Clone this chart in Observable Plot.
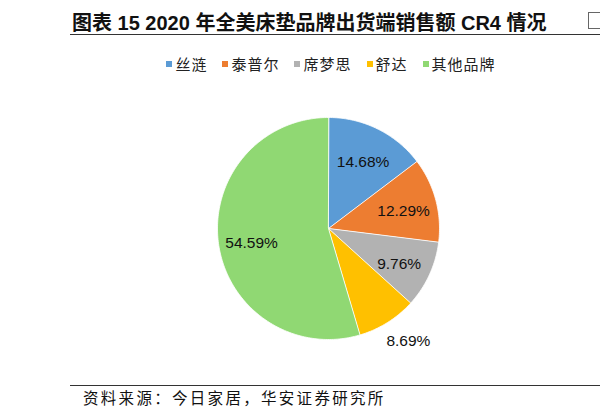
<!DOCTYPE html>
<html>
<head>
<meta charset="utf-8">
<script src="https://cdn.jsdelivr.net/npm/d3@7"></script>
<script src="https://cdn.jsdelivr.net/npm/@observablehq/plot@0.6"></script>
<style>
  html, body { margin: 0; padding: 0; background: #fff; }
  body { width: 600px; height: 417px; position: relative; overflow: hidden; font-family: "Liberation Sans", "Noto Sans CJK SC", sans-serif; }
  #title { position: absolute; left: 72px; top: 7px; font-size: 20px; font-weight: bold; color: #111; white-space: nowrap; font-family: "Liberation Sans", "Noto Sans CJK SC", sans-serif; }
  #titleRule { position: absolute; left: 70px; top: 34px; width: 530px; height: 0; border-top: 1.5px solid #333; }
  #edgeBox { position: absolute; left: 588px; top: 12px; width: 14px; height: 17px; border: 1px solid #666; box-sizing: border-box; }
  #legend { position: absolute; top: 53px; left: 0; width: 662px; display: flex; justify-content: center; gap: 15px; font-size: 15px; color: #222; font-family: "Noto Sans CJK SC", sans-serif; letter-spacing: 1px; }
  .item { display: flex; align-items: center; }
  .sw { width: 6px; height: 6px; margin-right: 3px; }
  #chart { position: absolute; left: 0; top: 80px; }
  #footRule { position: absolute; left: 70px; top: 385px; width: 530px; border-top: 1.5px solid #333; }
  #source { position: absolute; left: 83px; top: 386px; font-size: 15.5px; letter-spacing: 2.3px; color: #111; font-family: "Noto Sans CJK SC", sans-serif; white-space: nowrap; }
</style>
</head>
<body>
<div id="title">图表 15 2020 年全美床垫品牌出货端销售额 CR4 情况</div>
<div id="titleRule"></div>
<div id="edgeBox"></div>
<div id="legend"></div>
<div id="chart"></div>
<div id="footRule"></div>
<div id="source">资料来源：今日家居，华安证券研究所</div>
<script>
const brands = ["丝涟", "泰普尔", "席梦思", "舒达", "其他品牌"];
const shares = [14.68, 12.29, 9.76, 8.69, 54.59];
const colors = ["#5B9BD5", "#ED7D31", "#B2B2B2", "#FFC000", "#90D873"];

// legend
const legend = document.getElementById("legend");
brands.forEach((b, i) => {
  const it = document.createElement("div");
  it.className = "item";
  it.innerHTML = `<span class="sw" style="background:${colors[i]}"></span><span>${b}</span>`;
  legend.appendChild(it);
});

// pie geometry from the data
const arcs = d3.pie().sort(null).value(d => d)(shares);
const wedgePts = [];
const labels = [];
arcs.forEach((a, i) => {
  const a0 = a.startAngle, a1 = a.endAngle;
  const n = Math.max(2, Math.ceil((a1 - a0) / (Math.PI / 180)));
  wedgePts.push({brand: brands[i], x: 0, y: 0});
  for (let k = 0; k <= n; k++) {
    const t = a0 + (a1 - a0) * k / n;
    wedgePts.push({brand: brands[i], x: Math.sin(t), y: Math.cos(t)});
  }
  const mid = (a0 + a1) / 2;
  const outside = shares[i] < 9;
  const r = outside ? 1.2 : 0.7;
  labels.push({text: shares[i].toFixed(2) + "%", x: r * Math.sin(mid), y: r * Math.cos(mid), outside});
});

const R = 111, cx = 328, cy = 148, H = 300;
const plot = Plot.plot({
  width: 600,
  height: H,
  marginLeft: cx - R,
  marginRight: 600 - (cx + R),
  marginTop: cy - R,
  marginBottom: H - (cy + R),
  x: {domain: [-1, 1], axis: null},
  y: {domain: [-1, 1], axis: null},
  color: {domain: brands, range: colors},
  style: {fontFamily: "Liberation Sans, Arial, sans-serif", overflow: "visible"},
  marks: [
    Plot.line(wedgePts, {x: "x", y: "y", z: "brand", fill: "brand", stroke: "#fff", strokeWidth: 0.8, curve: "linear-closed"}),
    Plot.text(labels.filter(d => !d.outside), {x: "x", y: "y", text: "text", fontSize: 15.5, fill: "#111", dy: 3}),
    Plot.text(labels.filter(d => d.outside), {x: "x", y: "y", text: "text", fontSize: 15.5, fill: "#111", dx: 9})
  ]
});
document.getElementById("chart").appendChild(plot);
</script>
</body>
</html>
